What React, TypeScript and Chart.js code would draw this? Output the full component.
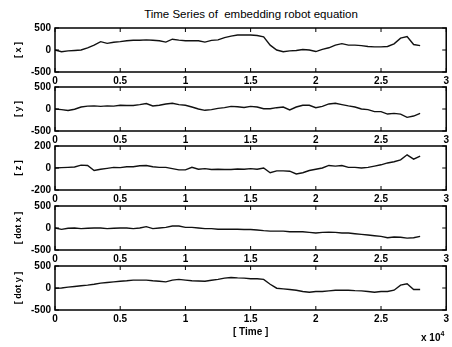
import React, { useEffect, useRef } from 'react';
import { Chart, registerables } from 'chart.js';

Chart.register(...registerables);

// time axis in units of 1e4
const time = [
  0, 0.05, 0.1, 0.15, 0.2, 0.25, 0.3, 0.35, 0.4, 0.45,
  0.5, 0.55, 0.6, 0.65, 0.7, 0.75, 0.8, 0.85, 0.9, 0.95,
  1.0, 1.05, 1.1, 1.15, 1.2, 1.25, 1.3, 1.35, 1.4, 1.45,
  1.5, 1.55, 1.6, 1.65, 1.7, 1.75, 1.8, 1.85, 1.9, 1.95,
  2.0, 2.05, 2.1, 2.15, 2.2, 2.25, 2.3, 2.35, 2.4, 2.45,
  2.5, 2.55, 2.6, 2.65, 2.7, 2.75, 2.8,
];

const xSeries = [
  0, -40, -20, -10, 0, 50, 110, 190, 150, 175,
  190, 210, 220, 220, 230, 220, 210, 180, 245, 225,
  210, 210, 210, 180, 220, 230, 280, 315, 340, 340,
  340, 330, 300, 110, 0, -40, -20, -10, 10, 0,
  -35, 15, 50, 110, 145, 110, 110, 100, 80, 70,
  70, 80, 140, 270, 305, 125, 100,
];

const ySeries = [
  0, -15, -35, -5, 45, 65, 70, 60, 70, 65,
  85, 80, 80, 100, 125, 70, 85, 115, 130, 100,
  85, 45, 0, -30, -15, 15, 30, 60, 50, 35,
  60, 45, 5, 5, 30, 45, -20, 45, 85, 85,
  30, 60, 115, 130, 100, 70, 45, 0, -15, -60,
  -60, -115, -100, -115, -190, -160, -100,
];

const zSeries = [
  0, 3, 6, 9, 26, 23, -23, -11, -3, 6,
  3, 11, 11, 20, 23, 11, 6, 6, -6, -17,
  -17, 6, -11, -6, -14, -11, -14, -14, -9, -11,
  -6, -11, 0, -43, -26, -26, -29, -54, -43, -23,
  -11, 0, 23, 17, 23, 6, 6, 0, 6, 17,
  29, 46, 57, 74, 120, 80, 109,
];

const dotXSeries = [
  0, -30, -5, 0, -15, -5, 0, 0, -15, -5,
  0, 0, -15, 0, 30, -15, 0, 15, 45, 45,
  15, 15, 0, -15, -15, -30, -30, -30, -30, -35,
  -35, -45, -60, -70, -70, -70, -85, -85, -85, -100,
  -115, -100, -95, -100, -115, -115, -130, -145, -160, -175,
  -190, -220, -205, -210, -230, -220, -190,
];

const dotYSeries = [
  -5, 0, 20, 35, 50, 65, 85, 110, 125, 140,
  155, 165, 180, 180, 180, 165, 155, 140, 180, 195,
  180, 165, 160, 155, 175, 195, 225, 240, 230, 225,
  210, 210, 195, 85, -5, -20, -35, -50, -80, -95,
  -80, -80, -65, -50, -50, -50, -60, -65, -80, -95,
  -80, -80, -50, 65, 95, -35, -35,
];

const xTickValues = [0, 0.5, 1, 1.5, 2, 2.5, 3];
const yLabels = ['[ x ]', '[ y ]', '[ z ]', '[ dot x ]', '[ dot y ]'];
const yLimits = [500, 500, 200, 500, 500];
const seriesList = [xSeries, ySeries, zSeries, dotXSeries, dotYSeries];

const titleText = 'Time Series of  embedding robot equation';
const xAxisTitle = '[ Time ]';

const FONT = "'Liberation Sans', Arial, sans-serif";
const plotTops = [26, 85, 144, 204, 264];
const PLOT_H = 46;
const PAD_TOP = 8;

const boxPlugin = {
  id: 'matlabBox',
  afterDatasetsDraw(chart: any) {
    const { ctx, chartArea } = chart;
    const { left, right, top, bottom } = chartArea;
    const xs = chart.scales.x;
    const ys = chart.scales.y;
    ctx.save();
    ctx.strokeStyle = '#000';
    ctx.lineWidth = 1.5;
    ctx.strokeRect(left, top, right - left, bottom - top);
    ctx.lineWidth = 1;
    ctx.beginPath();
    xs.ticks.forEach((t: any) => {
      const px = xs.getPixelForValue(t.value);
      ctx.moveTo(px, bottom);
      ctx.lineTo(px, bottom - 4);
      ctx.moveTo(px, top);
      ctx.lineTo(px, top + 4);
    });
    ys.ticks.forEach((t: any) => {
      const py = ys.getPixelForValue(t.value);
      ctx.moveTo(left, py);
      ctx.lineTo(left + 4, py);
      ctx.moveTo(right, py);
      ctx.lineTo(right - 4, py);
    });
    ctx.stroke();
    ctx.restore();
  },
};

function Panel({ index }: { index: number }) {
  const ref = useRef<HTMLCanvasElement>(null);
  const isLast = index === seriesList.length - 1;
  const axisH = isLast ? 30 : 16;
  const height = PAD_TOP + PLOT_H + axisH;

  useEffect(() => {
    if (!ref.current) return;
    const lim = yLimits[index];
    const chart = new Chart(ref.current, {
      type: 'line',
      data: {
        labels: time,
        datasets: [
          {
            data: time.map((t, i) => ({ x: t, y: seriesList[index][i] })),
            borderColor: '#111',
            borderWidth: 1.4,
            pointRadius: 0,
            tension: 0,
            fill: false,
          },
        ],
      },
      options: {
        responsive: false,
        animation: false,
        devicePixelRatio: 1,
        layout: { padding: { top: PAD_TOP, right: 5, left: 0, bottom: 0 } },
        plugins: { legend: { display: false }, tooltip: { enabled: false }, title: { display: false } },
        scales: {
          x: {
            type: 'linear',
            min: 0,
            max: 3,
            grid: { display: false, drawTicks: false },
            border: { display: false },
            afterBuildTicks: (s: any) => {
              s.ticks = xTickValues.map((v) => ({ value: v }));
            },
            afterFit: (s: any) => {
              s.height = axisH;
            },
            ticks: {
              padding: 3,
              maxRotation: 0,
              autoSkip: false,
              color: '#000',
              font: { family: FONT, size: 10, weight: 'bold' },
              callback: (v: any) => String(v),
            },
            title: isLast
              ? {
                  display: true,
                  text: xAxisTitle,
                  color: '#000',
                  font: { family: FONT, size: 10, weight: 'bold' },
                  padding: { top: 0, bottom: 2 },
                }
              : { display: false },
          },
          y: {
            type: 'linear',
            min: -lim,
            max: lim,
            grid: { display: false, drawTicks: false },
            border: { display: false },
            afterBuildTicks: (s: any) => {
              s.ticks = [-lim, 0, lim].map((v) => ({ value: v }));
            },
            afterFit: (s: any) => {
              s.width = 55;
            },
            ticks: {
              padding: 4,
              color: '#000',
              font: { family: FONT, size: 10, weight: 'bold' },
              callback: (v: any) => String(v),
            },
            title: {
              display: true,
              text: yLabels[index],
              color: '#000',
              font: { family: FONT, size: 9, weight: 'bold' },
              padding: { top: 13, bottom: 0 },
            },
          },
        },
      } as any,
      plugins: [boxPlugin],
    });
    return () => chart.destroy();
  }, [index]);

  return (
    <canvas
      ref={ref}
      width={452}
      height={height}
      style={{
        position: 'absolute',
        left: 0,
        top: plotTops[index] - PAD_TOP,
        width: 452,
        height,
        display: 'block',
      }}
    />
  );
}

export default function App() {
  return (
    <div
      style={{
        position: 'fixed',
        left: 0,
        top: 0,
        width: 452,
        height: 347,
        background: '#fff',
        overflow: 'hidden',
        fontFamily: FONT,
      }}
    >
      <div
        style={{
          position: 'absolute',
          left: 0,
          width: 502,
          top: 8,
          textAlign: 'center',
          fontSize: 11.5,
          color: '#000',
          whiteSpace: 'pre',
          lineHeight: '13px',
        }}
      >
        {titleText}
      </div>
      {seriesList.map((_, i) => (
        <Panel key={i} index={i} />
      ))}
      <div
        style={{
          position: 'absolute',
          left: 421,
          top: 332,
          fontSize: 10,
          fontWeight: 'bold',
          color: '#000',
          lineHeight: '12px',
          whiteSpace: 'pre',
        }}
      >
        x 10<sup style={{ fontSize: 7, verticalAlign: 'top', position: 'relative', top: -4 }}>4</sup>
      </div>
    </div>
  );
}
